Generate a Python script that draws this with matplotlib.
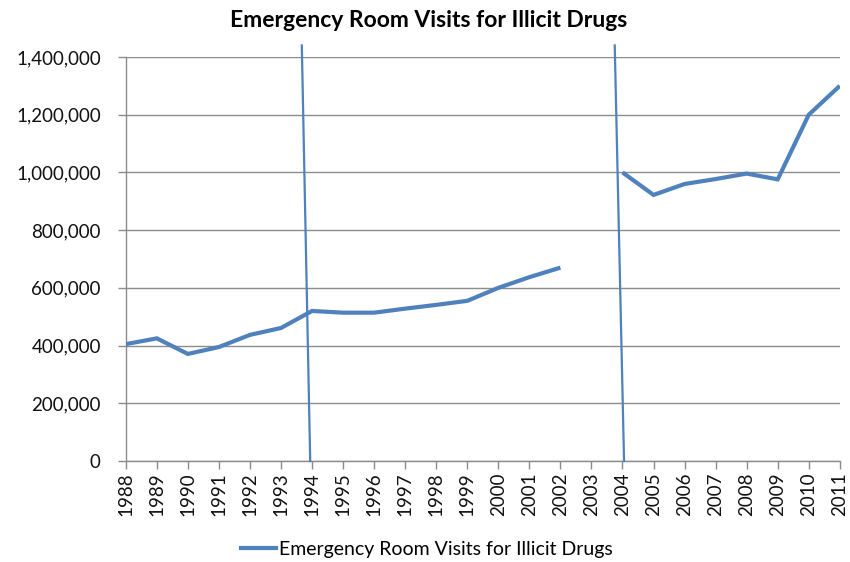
import numpy as np
import matplotlib
matplotlib.use("Agg")
import matplotlib.pyplot as plt
from matplotlib.ticker import FuncFormatter
from matplotlib.lines import Line2D

plt.rcParams['font.family'] = ['Lato', 'DejaVu Sans']

title = "Emergency Room Visits for Illicit Drugs"
series_name = "Emergency Room Visits for Illicit Drugs"
years = list(range(1988, 2012))
visits = [405000, 425000, 371000, 395000, 437000, 461000, 520000, 514000,
          514000, 528000, 541000, 555000, 600000, 637000, 670000, np.nan,
          1000000, 922000, 960000, 977000, 996000, 976000, 1200000, 1300000]

# two hand-drawn separator strokes: (x_top, x_bottom, y_top, y_bottom)
markers_x_top = [1993.67, 2003.75]
markers_x_bottom = [1993.94, 2004.05]
marker_y_top = 1440000
marker_y_bottom = 0

blue = "#4F81BD"
grid = "#8C8C8C"

fig = plt.figure(figsize=(8.5, 5.62), dpi=100)
ax = fig.add_axes([0.148, 0.1797, 0.84, 0.7189])

ax.plot(years, visits, color=blue, lw=3.0, solid_joinstyle='miter',
        solid_capstyle='butt', zorder=3)

for xt, xb in zip(markers_x_top, markers_x_bottom):
    ax.plot([xt, xb], [marker_y_top, marker_y_bottom], color=blue, lw=1.6,
            clip_on=False, zorder=4)

ax.set_xlim(years[0], years[-1])
ax.set_ylim(0, 1400000)
ax.set_yticks(np.arange(0, 1400001, 200000))
ax.yaxis.set_major_formatter(FuncFormatter(lambda v, p: f"{int(v):,}"))
ax.set_xticks(years)
ax.set_xticklabels([str(y) for y in years], rotation=90)

ax.grid(axis='y', color=grid, lw=1.0)
ax.set_axisbelow(True)
for s in ['top', 'right']:
    ax.spines[s].set_visible(False)
for s in ['left', 'bottom']:
    ax.spines[s].set_color(grid)
    ax.spines[s].set_linewidth(1.0)
ax.tick_params(axis='both', colors=grid, length=6, width=1.0, labelsize=13.5,
               labelcolor='#111111')
ax.tick_params(axis='x', pad=2)
ax.tick_params(axis='y', pad=12)

fig.text(0.504, 0.963, title, ha='center', va='center', fontsize=16.5,
         fontweight='bold')

handle = Line2D([], [], color=blue, lw=3.0)
fig.legend([handle], [series_name], loc='center', bbox_to_anchor=(0.502, 0.022),
           frameon=False, fontsize=14, handlelength=1.8, handletextpad=0.15)

fig.savefig("out.png", dpi=100)
